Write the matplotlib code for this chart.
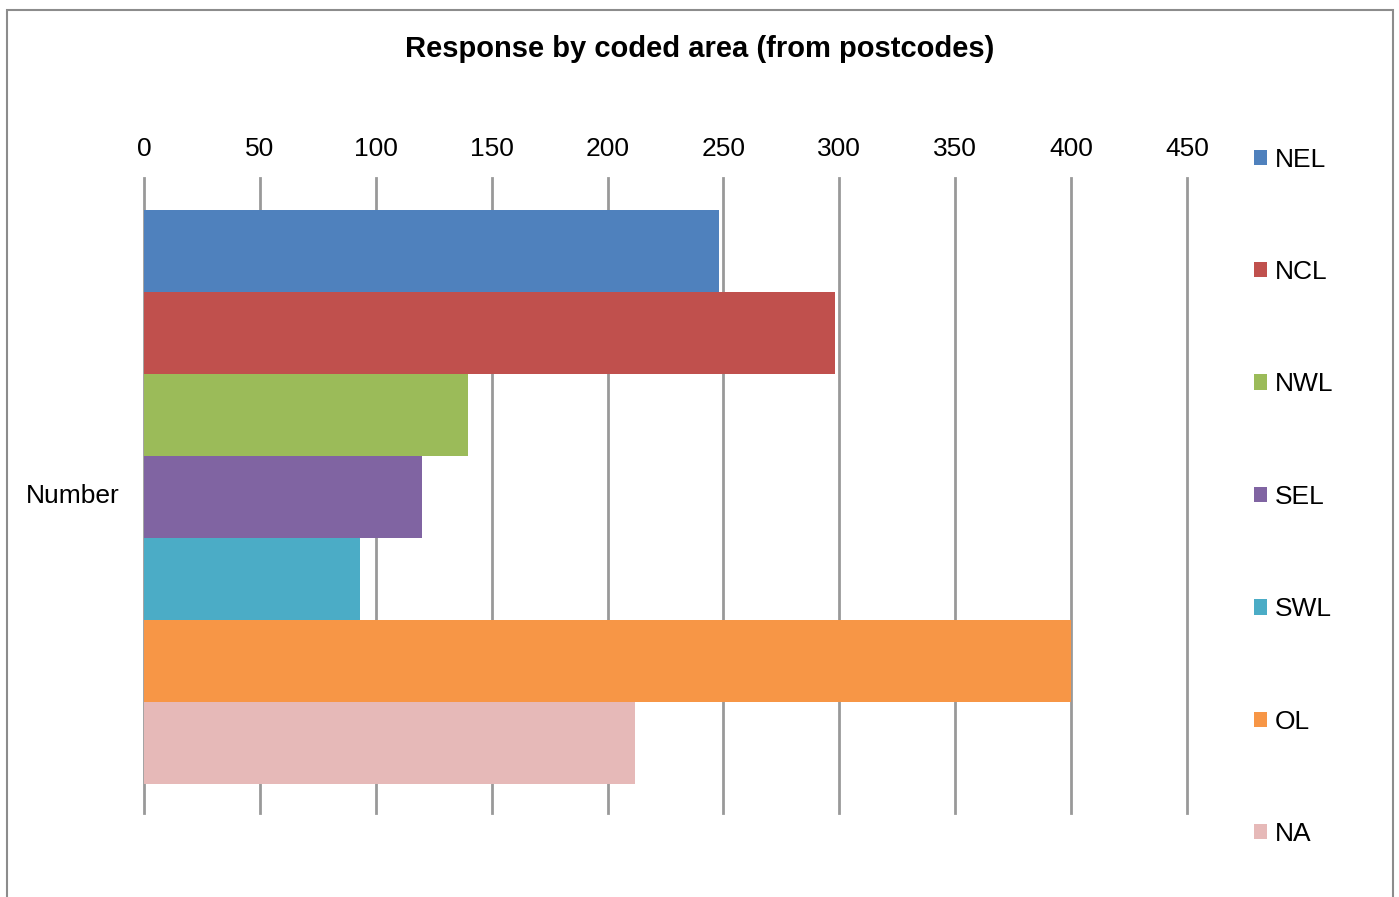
import matplotlib.pyplot as plt
from matplotlib.patches import Rectangle

# Responses per coded area
areas = ['NEL', 'NCL', 'NWL', 'SEL', 'SWL', 'OL', 'NA']
counts = [248, 298, 140, 120, 93, 400, 212]
colours = ['#4F81BD', '#C0504D', '#9BBB59', '#8064A2', '#4BACC6', '#F79646', '#E6B9B8']
ticks = [0, 50, 100, 150, 200, 250, 300, 350, 400, 450]

plt.rcParams['font.family'] = ['Liberation Sans', 'DejaVu Sans']

fig = plt.figure(figsize=(13.99, 8.97), dpi=100)

# outer chart frame
fig.patches.append(Rectangle((7 / 1399, -0.1), 1386 / 1399, 1.1 - 10 / 897,
                             transform=fig.transFigure, fill=False,
                             edgecolor='#8c8c8c', linewidth=1.5))

ax = fig.add_axes([144 / 1399, 1 - 813 / 897, 1043 / 1399, 635 / 897])

# one bar per area, stacked top to bottom inside the single category
for i, (name, n, c) in enumerate(zip(areas, counts, colours)):
    ax.barh(i, n, height=1.0, color=c, label=name, zorder=2)

ax.set_xlim(0, 450)
ax.set_ylim(6.5 + 29 / 82, -0.5 - 32 / 82)
ax.set_xticks(ticks)
ax.xaxis.tick_top()
ax.tick_params(axis='x', length=0, pad=12, labelsize=19)
ax.set_yticks([])
for s in ax.spines.values():
    s.set_visible(False)
ax.grid(axis='x', color='#999999', linewidth=2, zorder=1)
for gl in ax.get_xgridlines():
    gl.set_clip_on(False)

fig.text(120 / 1399, 1 - 496 / 897, 'Number', ha='right', va='center', fontsize=19)

fig.text(0.5, 1 - 49 / 897, 'Response by coded area (from postcodes)',
         ha='center', va='center', fontsize=21, fontweight='bold')

leg = fig.legend(loc='upper left', bbox_to_anchor=(1243 / 1399, 1 - 137 / 897),
                 frameon=False, fontsize=19, handlelength=0.52, handleheight=0.52,
                 handletextpad=0.3, labelspacing=3.35, borderaxespad=0)

fig.savefig('out.png', dpi=100)
